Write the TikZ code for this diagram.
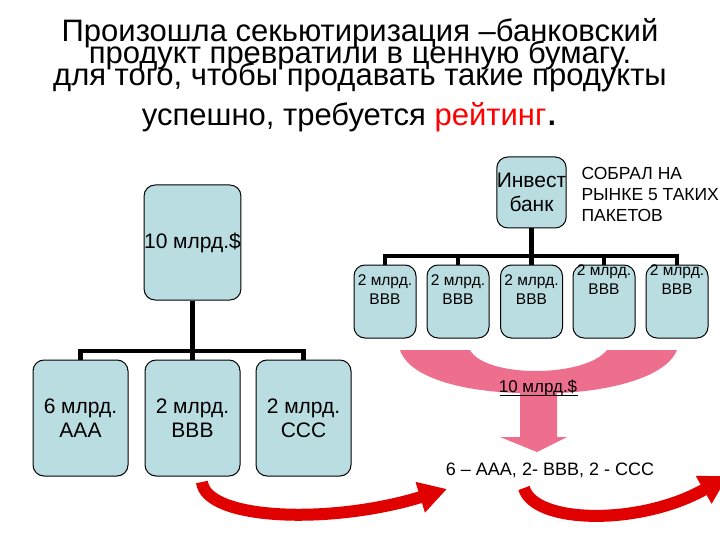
\documentclass[tikz,border=0pt]{standalone}
\usepackage{fontspec}
\setmainfont{Liberation Sans}
\usetikzlibrary{arrows.meta}
\definecolor{boxc}{HTML}{BADDE1}
\definecolor{pinkc}{HTML}{EE6E8E}
\definecolor{redc}{HTML}{E00000}
\tikzset{
 box/.style={draw=black,line width=1pt,fill=boxc,rounded corners=11pt,inner sep=0pt,align=center,font=\fontsize{21}{24}\selectfont},
 sbox/.style={box,font=\fontsize{15.5}{19}\selectfont},
 conn/.style={line width=4.5pt},
 ttl/.style={font=\fontsize{31}{31}\selectfont,inner sep=0pt},
 redarr/.style={redc,line width=12pt,-{Triangle[width=30pt,length=28pt]}},
}
\begin{document}
\begin{tikzpicture}[x=1pt,y=-1pt]
\useasboundingbox (0,0) rectangle (720,540);
\clip (0,0) rectangle (720,540);
% title
\node[ttl] (t1) at (360,33) {Произошла секьютиризация –банковский};
\node[ttl] (t2) at (360,55) {продукт превратили в ценную бумагу.};
\node[ttl] (t3) at (360,77) {для того, чтобы продавать такие продукты};
\node[ttl] (t4) at (350,117) {успешно, требуется \textcolor{red}{рейтинг}\fontsize{42}{42}\selectfont.};
% left tree
\node[box,minimum width=95pt,minimum height=115pt] (L) at (192.5,242.5) {10 млрд.\$};
\node[box,minimum width=95pt,minimum height=116pt] (A) at (80.5,418) {6 млрд.\\ AAA};
\node[box,minimum width=95pt,minimum height=116pt] (B) at (192.5,418) {2 млрд.\\ BBB};
\node[box,minimum width=95pt,minimum height=116pt] (C) at (303.5,418) {2 млрд.\\ CCC};
\coordinate (Lj) at (192.5,351);
\draw[conn] (L.south) -- (Lj);
\draw[conn] (A.north) |- (Lj) -| (C.north);
\draw[conn] (Lj) -- (B.north);
% right tree
\node[box,minimum width=63pt,minimum height=71pt] (I) at (531.5,192.5) {Инвест\\банк};
\foreach \i/\x in {1/385,2/458,3/531.5} {
 \node[sbox,minimum width=62pt,minimum height=73pt] (b\i) at (\x,301.5) {2 млрд.\\BBB\\[4pt]};
}
\foreach \i/\x in {4/604,5/677} {
 \node[sbox,minimum width=62pt,minimum height=73pt] (b\i) at (\x,301.5) {2 млрд.\\BBB\\[24pt]};
}
\coordinate (Rj) at (531.5,256);
\draw[conn] (I.south) -- (Rj);
\draw[conn] (b1.north) |- (Rj) -| (b5.north);
\draw[conn] (b2.north) -- (b2.north |- Rj);
\draw[conn] (b4.north) -- (b4.north |- Rj);
\draw[conn] (b3.north) -- (Rj);
\node[align=left,anchor=west,font=\fontsize{17.5}{21}\selectfont] (s) at (578,194) {СОБРАЛ НА\\РЫНКЕ 5 ТАКИХ\\ПАКЕТОВ};
% pink arrow
\fill[pinkc] (400,350) -- (470,350) .. controls (485,378) and (585,378) .. (607,350) -- (677,350)
 .. controls (665,380) and (600,392) .. (557,393) -- (557,437) -- (567,437) -- (537,452) -- (500,437) -- (520,437) -- (520,393)
 .. controls (470,392) and (410,380) .. (400,350) -- cycle;
\node[font=\fontsize{17}{17}\selectfont] (p) at (538,388) {10 млрд.\$};
\draw (500,395) -- (578,395);
\node[font=\fontsize{18}{18}\selectfont] (r) at (550,470) {6 – AAA, 2- BBB, 2 - CCC};
% red arrows
\coordinate (e1) at (447,489);
\coordinate (e2) at (728,476);
\draw[redarr] (202,482) .. controls (206,520) and (330,525) .. (e1);
\draw[redarr] (524,488) .. controls (534,524) and (640,526) .. (e2);
\end{tikzpicture}
\end{document}
